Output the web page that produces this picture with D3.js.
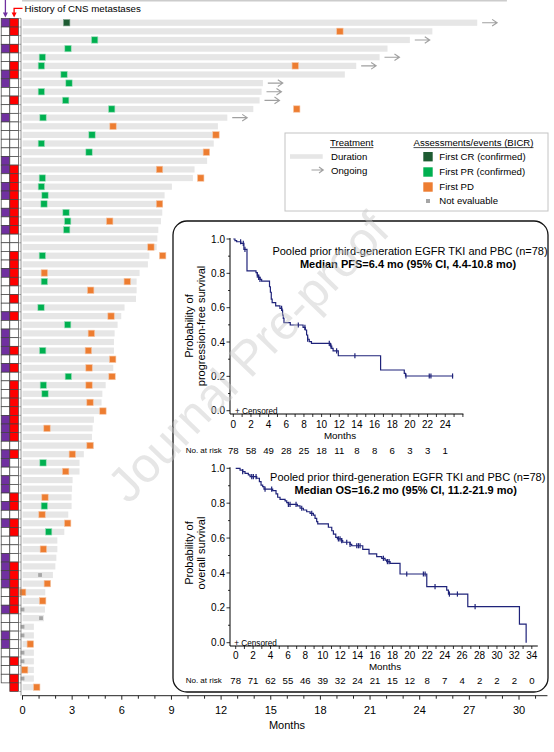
<!DOCTYPE html>
<html><head><meta charset="utf-8">
<script src="https://cdn.jsdelivr.net/npm/d3@7"></script>
<style>body{margin:0;background:#fff}svg{display:block;font-family:"Liberation Sans",Arial,sans-serif}</style>
</head><body><svg id="c" width="554" height="752"></svg>
<script>
// ---------- Swimmer data (78 patients, top to bottom) ----------
const flagPurple = [1,0,0,1,0,0,1,1,0,0,0,1,0, 0,0,0,1,1,0,1,1,0,1,0,1,0, 0,0,0,1,0,0,0,0,1,0,1,1,1,0, 1,0,0,0,0,0,1,1,1,0,1,1,0,1,1, 0,1,0,1,0,0,0,1,1,1,1,0,0,1, 0,0,1,1,0,0,0,0];
const cnsHistory = [1,1,0,1,0,1,1,0,0,1,0,0,0, 0,0,0,0,1,1,1,1,1,1,1,1,0, 0,1,1,1,1,0,1,0,1,0,0,0,1,0, 1,0,1,1,1,1,1,1,1,0,1,0,0,0,0, 1,1,0,1,1,0,0,0,1,1,1,1,1,1, 0,0,0,0,0,1,0,1,1];
const durationMonths = [27.47,24.76,23.40,22.05,21.57,20.16,19.47,14.52,14.44,14.32,13.94,12.37,11.80,
 11.60,11.55,11.20,11.15,10.39,10.29,9.02,8.58,8.48,8.44,8.36,8.20,8.14,
 8.10,7.66,7.57,7.07,6.89,6.89,6.85,6.16,5.96,5.74,5.56,5.52,5.52,5.27,
 5.48,5.42,5.02,4.82,4.77,4.71,4.31,4.23,4.19,4.31,3.70,3.44,3.44,3.02,2.99,
 2.96,2.96,2.76,2.60,2.52,2.10,2.10,2.04,1.98,1.83,1.69,1.37,1.37,1.35,
 1.29,0.68,0.68,0.68,0.68,0.68,0.68,0.68,0.68];
const ongoingRows = [0,2,4,5,7,8,9,11];
const firstCR = [[0,2.70]];
const firstPR = [[2,4.39],[3,2.78],[4,1.23],[5,1.17],[6,2.54],[7,2.84],[8,1.17],[9,2.64],[10,5.42],[11,1.27],
 [13,4.23],[14,1.17],[15,4.05],[18,1.23],[19,1.17],[20,1.39],[21,1.33],[22,2.66],[23,2.76],[24,2.70],
 [27,1.23],[30,1.35],[33,1.15],[35,2.76],[38,1.25],[41,2.80],[42,1.29],[43,1.39],[51,1.27],[56,1.35],[59,1.61]];
const firstPD = [[1,19.21],[5,16.51],[10,16.60],[12,5.50],[13,11.72],[15,11.14],[17,8.31],[18,10.80],[21,8.31],
 [23,5.30],[26,7.79],[27,8.50],[29,1.35],[30,6.36],[31,4.15],[34,5.38],[36,4.19],[38,4.01],[39,5.48],[40,4.05],
 [41,5.44],[42,4.05],[44,4.11],[45,4.89],[47,1.51],[49,4.11],[50,3.04],[52,2.64],[55,1.39],[57,1.21],[58,2.76],
 [61,1.29],[65,1.53],[66,0.04],[67,1.25],[72,0.50],[75,0.16],[77,0.89]];
const notEvaluable = [[64,1.09],[68,0.03],[69,1.15],[70,0.03],[71,0.03],[73,0.03],[74,0.03],[76,0.03]];
const swimTicks = d3.range(0,32);

// ---------- KM data ----------
const pfsTime = [0,0.19,0.38,0.85,1.2,1.55,2.57,2.72,2.87,3.02,3.21,4.1,4.2,4.3,4.4,4.8,5.28,5.5,5.58,5.66,5.74,6.45,7.9,8.15,8.3,8.42,8.6,8.85,11.0,11.15,11.3,11.89,16.68,19.36,19.5];
const pfsSurv = [1.0,0.990,0.984,0.975,0.940,0.814,0.804,0.790,0.777,0.765,0.755,0.722,0.690,0.650,0.629,0.610,0.596,0.586,0.557,0.538,0.513,0.499,0.485,0.470,0.441,0.416,0.402,0.392,0.376,0.363,0.348,0.320,0.237,0.217,0.202];
const pfsEnd = 24.9;
const pfsCensored = [0.83,1.13,1.32,2.72,2.87,3.02,5.47,7.36,8.11,8.42,10.87,11.06,11.7,13.77,19.55,22.19,22.38,24.83];
const pfsRisk = [78,58,49,28,25,18,11,8,8,6,3,3,1];

const osTime = [0,0.5,0.8,1.07,1.45,1.65,2.41,2.72,2.91,3.1,3.25,4.25,4.63,4.82,5.09,5.67,5.86,6.05,7.08,7.39,7.77,8.15,8.54,8.92,9.11,9.3,9.42,10.64,11.03,11.22,11.49,11.68,12.17,12.29,13.13,13.32,14.59,15.31,16.19,16.77,17.15,17.34,17.73,18.87,21.94,24.23,24.43,26.65,32.58,33.35];
const osSurv = [1.0,0.990,0.981,0.971,0.962,0.952,0.943,0.924,0.904,0.895,0.881,0.872,0.853,0.834,0.822,0.813,0.803,0.793,0.784,0.771,0.761,0.751,0.742,0.732,0.713,0.694,0.681,0.662,0.642,0.623,0.604,0.595,0.585,0.576,0.564,0.556,0.535,0.509,0.493,0.484,0.474,0.465,0.455,0.394,0.321,0.302,0.279,0.207,0.107,0.0];
const osEnd = 33.35;
const osCensored = [0.8,1.84,2.03,2.34,3.37,4.13,6.05,6.24,6.93,7.58,8.73,11.79,11.98,12.17,12.75,13.13,13.9,14.09,14.28,16.96,17.42,17.61,19.64,21.55,21.75,22.89,24.54,25.46,27.49];
const osRisk = [78,71,62,55,46,39,32,24,21,15,12,8,7,4,2,2,2,0];

const COL = {purple:"#7030a0", red:"#ff0000", bar:"#e6e6e6", cr:"#1e5b32", pr:"#00b050", pd:"#ed7d31", ne:"#a6a6a6", arrow:"#a0a0a0", km:"#1f237a"};

const svg = d3.select("#c");

// ---------- Swimmer plot ----------
const xs = d3.scaleLinear().domain([0,32]).range([22, 22+16.55*32]);
const ys = d3.scaleBand().domain(d3.range(78)).range([18.4, 691.5]);
const step = ys.bandwidth();
const cy = i => ys(i) + step/2;

svg.append("line").attr("x1", xs(0)).attr("x2", xs(29.3)).attr("y1",0.6).attr("y2",0.6)
  .attr("stroke","#cccccc").attr("stroke-width",1.6);

svg.append("g").selectAll("rect").data(durationMonths).join("rect")
  .attr("x", xs(0)+0.6).attr("y",(d,i)=>cy(i)-3.1)
  .attr("width", d => xs(d)-xs(0)).attr("height",6.2).attr("fill",COL.bar);

const arrowG = svg.append("g").attr("stroke",COL.arrow).attr("fill","none").attr("stroke-width",1.1);
ongoingRows.forEach(i=>{
  const x0 = xs(durationMonths[i])+5.5, x1 = x0+15, y = cy(i);
  arrowG.append("path").attr("d",`M${x0},${y}H${x1}M${x1-5},${y-3.3}L${x1},${y}L${x1-5},${y+3.3}`);
});

function squares(data, color, size, stroke){
  svg.append("g").selectAll("rect").data(data).join("rect")
    .attr("x", d=>xs(d[1])-size/2).attr("y", d=>cy(d[0])-size/2)
    .attr("width",size).attr("height",size).attr("fill",color)
    .attr("stroke",stroke).attr("stroke-width",0.6);
}
squares(firstPR, COL.pr, 6.4, "#9fe0bd");
squares(firstPD, COL.pd, 6.4, "#f7c3a0");
squares(firstCR, COL.cr, 6.4, "#7fa58c");
squares(notEvaluable, COL.ne, 3.8, "none");

const cellG = svg.append("g").attr("stroke","#404040").attr("stroke-width",0.7);
cellG.selectAll(".p").data(flagPurple).join("rect").attr("class","p")
  .attr("x",1.2).attr("y",(d,i)=>ys(i)).attr("width",8.6).attr("height",step)
  .attr("fill",d=>d?COL.purple:"#fff");
cellG.selectAll(".r").data(cnsHistory).join("rect").attr("class","r")
  .attr("x",9.8).attr("y",(d,i)=>ys(i)).attr("width",8.6).attr("height",step)
  .attr("fill",d=>d?COL.red:"#fff");

const la = svg.append("g").attr("stroke","#7f7f7f").attr("stroke-width",0.8);
la.append("line").attr("x1",21).attr("x2",21).attr("y1",18.4).attr("y2",695.7);
la.selectAll("line.t").data(d3.range(79)).join("line").attr("class","t")
  .attr("x1",19.3).attr("x2",21).attr("y1",d=>18.4+d*step).attr("y2",d=>18.4+d*step);

svg.append("line").attr("x1",5.4).attr("x2",5.4).attr("y1",0).attr("y2",13.5).attr("stroke",COL.purple).attr("stroke-width",1.3);
svg.append("path").attr("d","M2.9,12.6L5.4,17.6L7.9,12.6Z").attr("fill",COL.purple);
svg.append("path").attr("d","M22.5,8.3H14.1V13.5").attr("stroke",COL.red).attr("fill","none").attr("stroke-width",1.3);
svg.append("path").attr("d","M11.6,12.6L14.1,17.6L16.6,12.6Z").attr("fill",COL.red);
svg.append("text").attr("x",24.5).attr("y",12.3).attr("font-size",9.7).text("History of CNS metastases");

const xAxis = d3.axisBottom(xs).tickValues(swimTicks).tickSize(4).tickPadding(7)
  .tickFormat(d => d%3===0 ? d : "");
const ax = svg.append("g").attr("transform","translate(0,695.7)").call(xAxis);
ax.select(".domain").attr("d",`M${xs(0)},0H${xs(31.75)}`).attr("stroke","#222");
ax.selectAll(".tick line").attr("stroke","#222").attr("y2",d=>d%3===0?4:3);
ax.selectAll(".tick text").attr("font-size",11).attr("font-family",'"Liberation Sans",Arial,sans-serif').attr("fill","#000");
svg.append("text").attr("x",287).attr("y",729).attr("text-anchor","middle").attr("font-size",11).text("Months");

// ---------- Legend ----------
const lg = svg.append("g");
lg.append("rect").attr("x",285).attr("y",133).attr("width",263).attr("height",78).attr("fill","#fff").attr("stroke","#c4c4c4");
function underlined(x,y,txt){
  const t = lg.append("text").attr("x",x).attr("y",y).attr("text-anchor","middle").attr("font-size",9.6).text(txt);
  const w = t.node().getComputedTextLength();
  lg.append("line").attr("x1",x-w/2).attr("x2",x+w/2).attr("y1",y+1.6).attr("y2",y+1.6).attr("stroke","#000").attr("stroke-width",0.7);
}
underlined(351.7,146,"Treatment");
underlined(473.5,146,"Assessments/events (BICR)");
lg.append("rect").attr("x",290).attr("y",154.2).attr("width",32.7).attr("height",4.6).attr("fill",COL.bar);
lg.append("text").attr("x",331).attr("y",159.8).attr("font-size",9.6).text("Duration");
lg.append("path").attr("d","M311.5,170H323.3M319,167L323.3,170L319,173").attr("stroke",COL.arrow).attr("fill","none").attr("stroke-width",1.1);
lg.append("text").attr("x",331).attr("y",174).attr("font-size",9.6).text("Ongoing");
const legItems = [["First CR (confirmed)",COL.cr,9.4,156.7],["First PR (confirmed)",COL.pr,9.4,172],["First PD",COL.pd,9.4,187],["Not evaluable",COL.ne,4,201]];
legItems.forEach(([t,c,s,y])=>{
  lg.append("rect").attr("x",428-s/2).attr("y",y-s/2).attr("width",s).attr("height",s).attr("fill",c);
  lg.append("text").attr("x",439.3).attr("y",y+3.4).attr("font-size",9.6).text(t);
});

// ---------- KM inset ----------
svg.append("rect").attr("x",173).attr("y",221).attr("width",375).attr("height",471).attr("rx",14)
  .attr("fill","#fff").attr("stroke","#111").attr("stroke-width",1.3);

function km(o){
  const g = svg.append("g");
  const x = d3.scaleLinear().domain([0,o.xmax]).range(o.xr);
  const y = d3.scaleLinear().domain([0,1]).range(o.yr);
  g.append("line").attr("x1",230).attr("x2",230).attr("y1",y(1)-1).attr("y2",o.axisY).attr("stroke","#000");
  g.append("line").attr("x1",230).attr("x2",x(o.xmax)+o.axisExt).attr("y1",o.axisY).attr("y2",o.axisY).attr("stroke","#000");
  d3.range(0,11).forEach(k=>{
    const v=k/10, major=k%2===0;
    g.append("line").attr("x1",major?226.5:228).attr("x2",230).attr("y1",y(v)).attr("y2",y(v)).attr("stroke","#000").attr("stroke-width",0.8);
    if(major) g.append("text").attr("x",225).attr("y",y(v)+3.6).attr("text-anchor","end").attr("font-size",10).text(v.toFixed(1));
  });
  d3.range(0,o.xmax+1).forEach(m=>{
    g.append("line").attr("x1",x(m)).attr("x2",x(m)).attr("y1",o.axisY).attr("y2",o.axisY+3).attr("stroke","#000").attr("stroke-width",0.8);
  });
  d3.range(0,o.labelMax+1,2).forEach(m=>{
    g.append("text").attr("x",x(m)).attr("y",o.tickY).attr("text-anchor","middle").attr("font-size",10).text(m);
  });
  g.append("text").attr("x",o.monthsX).attr("y",o.monthsY).attr("text-anchor","middle").attr("font-size",9.8).text("Months");
  g.append("text").attr("x",185.7).attr("y",o.riskY-0.5).attr("font-size",8).text("No. at risk");
  o.risk.forEach((r,i)=>{
    g.append("text").attr("x",x(i*2)).attr("y",o.riskY).attr("text-anchor","middle").attr("font-size",9.6).text(r);
  });
  const yl = g.append("g").attr("transform",`translate(0,${o.ylabY}) rotate(-90)`);
  yl.append("text").attr("x",0).attr("y",193).attr("text-anchor","middle").attr("font-size",11).text("Probability of");
  yl.append("text").attr("x",0).attr("y",204.5).attr("text-anchor","middle").attr("font-size",11).text(o.ylab2);
  g.append("text").attr("x",o.titleX).attr("y",o.titleY).attr("text-anchor","middle").attr("font-size",11).text("Pooled prior third-generation EGFR TKI and PBC (n=78)");
  g.append("text").attr("x",o.titleX-2).attr("y",o.titleY+13.3).attr("text-anchor","middle").attr("font-size",11).attr("font-weight","bold").text(o.median);
  g.append("text").attr("x",o.censX).attr("y",y(0)+2.8).attr("font-size",8.2).text("+ Censored");
  const pts = o.time.map((t,i)=>[t,o.surv[i]]);
  if(o.end > o.time[o.time.length-1]) pts.push([o.end, o.surv[o.surv.length-1]]);
  g.append("path").attr("d", d3.line().x(d=>x(d[0])).y(d=>y(d[1])).curve(d3.curveStepAfter)(pts))
    .attr("fill","none").attr("stroke",COL.km).attr("stroke-width",1.2);
  const S = t => { let s=1; o.time.forEach((tt,i)=>{ if(tt<=t) s=o.surv[i]; }); return s; };
  g.selectAll("line.c").data(o.cens).join("line").attr("class","c")
    .attr("x1",d=>x(d)).attr("x2",d=>x(d)).attr("y1",d=>y(S(d))-2.6).attr("y2",d=>y(S(d))+2.6)
    .attr("stroke",COL.km).attr("stroke-width",1.2);
}
km({xmax:26, labelMax:24, xr:[233.3,462.9], yr:[410.7,239], axisY:414, axisExt:0.5, tickY:428.2, monthsX:340, monthsY:439.2, riskY:453.5,
  risk:pfsRisk, ylabY:326, ylab2:"progression-free survival", titleX:410, titleY:254.5, median:"Median PFS=6.4 mo (95% CI, 4.4-10.8 mo)",
  censX:235, time:pfsTime, surv:pfsSurv, end:pfsEnd, cens:pfsCensored});
km({xmax:34, labelMax:34, xr:[235.7,531.8], yr:[642.7,468.3], axisY:646, axisExt:6, tickY:658.5, monthsX:385, monthsY:670.2, riskY:683.5,
  risk:osRisk, ylabY:553, ylab2:"overall survival", titleX:407.7, titleY:480.5, median:"Median OS=16.2 mo (95% CI, 11.2-21.9 mo)",
  censX:234.3, time:osTime, surv:osSurv, end:osEnd, cens:osCensored});

// ---------- Watermark ----------
svg.append("text").attr("transform","translate(251,360) rotate(-46)").attr("text-anchor","middle")
  .attr("dominant-baseline","middle").attr("font-size",49).attr("fill","#c8c8c8").attr("opacity",0.45).text("Journal Pre-proof");
</script></body></html>
